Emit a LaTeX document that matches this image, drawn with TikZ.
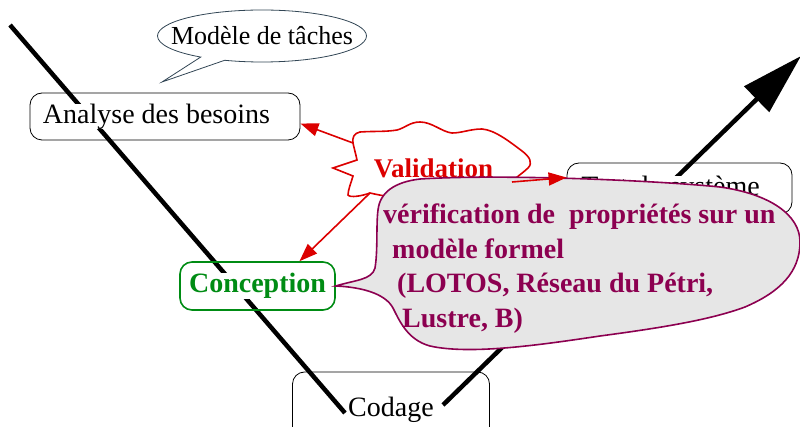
\documentclass[tikz,border=0pt]{standalone}
\usepackage{fontspec}
\setmainfont{Liberation Serif}
\usepackage{xcolor}
\usepackage{tikz}
\usetikzlibrary{positioning}
\usetikzlibrary{calc,arrows.meta}
\usetikzlibrary{shapes.callouts}

\definecolor{valred}{RGB}{220,0,0}
\definecolor{concgreen}{RGB}{0,140,20}
\definecolor{verifpurple}{RGB}{140,0,80}
\definecolor{verifgray}{RGB}{230,230,230}
\definecolor{bubblegray}{RGB}{50,70,85}

\newcommand{\whitebg}[1]{{\setlength{\fboxsep}{0pt}\colorbox{white}{#1}}}

\begin{document}
\begin{tikzpicture}[x=1pt, y=-1pt,
  phase/.style={draw, rounded corners=12pt, line width=0.8pt, inner sep=0pt, font=\fontsize{28}{33}\selectfont},
  vline/.style={line width=4.5pt},
  redarrow/.style={draw=valred, line width=1.6pt, -{Triangle[length=18pt,width=13pt]}}]

\useasboundingbox (0,0) rectangle (800,427);

% the V
\coordinate (vtop) at (10,25);
\coordinate (vleft) at (345,413);
\coordinate (vright) at (443,405);
\coordinate (vtip) at (801,56);
\draw [vline] (vtop) -- (vleft);
\draw [vline, -{Triangle[length=62pt,width=35pt]}] (vright) -- (vtip);

\node (analyse) [phase, minimum width=270pt, minimum height=47pt] at (165,116.5) {\whitebg{Analyse des besoins}\hspace*{17pt}};

\node (concept) [phase, draw=concgreen, line width=1.6pt, text=concgreen, font=\bfseries\fontsize{28}{33}\selectfont, minimum width=155pt, minimum height=48pt] at (257.5,286) {\whitebg{Conception}};

\node (codage) [phase, minimum width=197pt, minimum height=76pt] at (391,410) {\whitebg{Codage}};

\node (test) [phase, minimum width=225pt, minimum height=51pt] at (679.5,188.5) {\whitebg{Test du système}\hspace*{18pt}};

\node (taches) [ellipse callout, draw=bubblegray, line width=0.8pt, inner sep=0pt, minimum width=209pt, minimum height=52pt, callout absolute pointer={(162,82)}, font=\fontsize{26}{30}\selectfont] at (262,36) {\makebox[0pt]{Modèle de tâches}};

% validation cloud
\coordinate (valA) at (353,143);
\coordinate (valB) at (512,182);
\coordinate (valC) at (370,193);
\draw [valred, line width=1.6pt, fill=white] (valA) .. controls (352,138) and (354,133) .. (360,132) .. controls (375,131) and (385,132) .. (397,130) .. controls (405,128) and (410,122) .. (420,122) .. controls (432,122) and (442,132) .. (452,133) .. controls (462,133) and (470,129) .. (482,129) .. controls (495,130) and (510,142) .. (522,151) .. controls (530,157) and (533,163) .. (528,168) .. controls (523,173) and (516,177) .. (valB) .. controls (500,200) and (420,205) .. (valC) .. controls (362,196) and (350,198) .. (348,195) .. controls (348,190) and (351,183) .. (353,176) -- (333,168) -- (357,160) .. controls (356,155) and (354,148) .. (valA) -- cycle;

\node (valtext) [text=valred, font=\bfseries\fontsize{27}{32}\selectfont] at (433.5,168) {Validation};

% verification callout
\draw [draw=verifpurple, line width=1.6pt, fill=verifgray] (concept.east) .. controls (355,280) and (372,280) .. (375,268) .. controls (378,250) and (376,225) .. (378,210) .. controls (380,192) and (395,182) .. (420,179) .. controls (500,174) and (650,180) .. (720,187) .. controls (770,194) and (800,215) .. (800,242) .. controls (800,272) and (780,292) .. (745,307) .. controls (710,320) and (660,328) .. (600,336) .. controls (540,345) and (470,355) .. (430,346) .. controls (408,340) and (400,322) .. (393,308) .. controls (385,293) and (360,287) .. (concept.east) -- cycle;

\node (verif) [anchor=north west, inner sep=0pt, align=left, text=verifpurple, font=\bfseries\fontsize{28}{34.5}\selectfont] at (383,204) {vérification de\ \ propriétés sur un\\\hspace*{9pt}modèle formel\\\hspace*{14pt}(LOTOS, Réseau du Pétri,\\\hspace*{19pt}Lustre, B)};

\draw [redarrow] (valA) -- ([yshift=-7pt]analyse.east);
\draw [redarrow] (valB) -- ([yshift=11pt]test.west);
\draw [redarrow] (valC) -- ([xshift=42pt]concept.north);
\end{tikzpicture}
\end{document}
